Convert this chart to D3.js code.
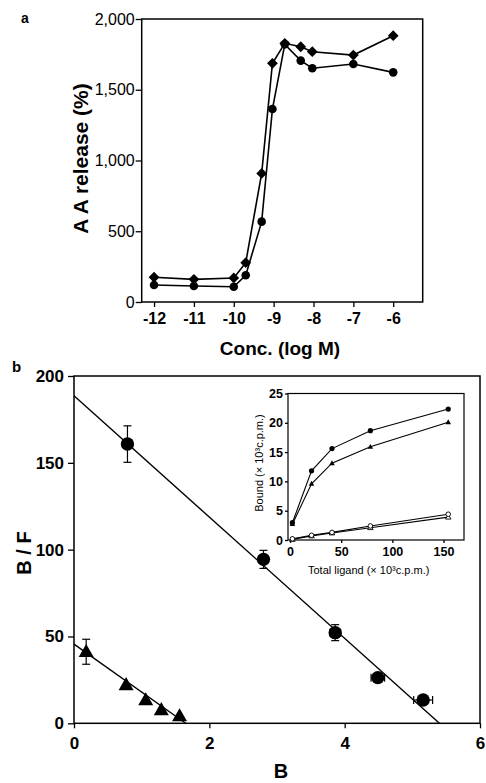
<!DOCTYPE html>
<html>
<head>
<meta charset="utf-8">
<script src="https://cdn.jsdelivr.net/npm/d3@7"></script>
<style>
  body { margin: 0; background: #fff; }
  svg { display: block; font-family: "Liberation Sans", Arial, sans-serif; }
</style>
</head>
<body>
<svg width="486" height="783"></svg>
<script>
// panel a: AA release vs log concentration
var concA = [-12, -11, -10, -9.7, -9.3, -9.03, -8.72, -8.32, -8.03, -7, -6];
var releaseDiamond = [175, 160, 170, 278, 909, 1687, 1828, 1804, 1769, 1745, 1882];
var releaseCircle = [120, 113, 108, 189, 568, 1364, 1821, 1706, 1652, 1682, 1623];
var ticksAx = [-12, -11, -10, -9, -8, -7, -6];
var ticksAy = [0, 500, 1000, 1500, 2000];

// panel b: Scatchard plot
var circB = [0.79, 2.80, 3.86, 4.49, 5.16];
var circBF = [160.8, 94.4, 52.2, 26.3, 13.4];
var circErrY = [10.5, 5.2, 4.6, 2, 1.5];
var circErrX = [0, 0.07, 0.08, 0.1, 0.14];
var triB = [0.18, 0.77, 1.06, 1.29, 1.56];
var triBF = [41.2, 22.1, 13.4, 7.7, 4.2];
var triErrY = [7.2, 0, 0, 0, 0];
var fitCirc = [[0, 188.6], [5.4, 0]];
var fitTri = [[0, 45.6], [1.65, 0]];
var ticksBx = [0, 2, 4, 6];
var ticksBy = [0, 50, 100, 150, 200];

// inset: bound vs total ligand
var ligand = [2.3, 21, 41, 78.5, 154.6];
var boundCircle = [2.95, 11.8, 15.6, 18.65, 22.35];
var boundTri = [2.7, 9.6, 13.1, 15.9, 20.1];
var boundOpenCircle = [0.2, 0.8, 1.3, 2.4, 4.4];
var boundOpenTri = [0.1, 0.7, 1.2, 2.1, 3.9];
var ticksIx = [0, 50, 100, 150];
var ticksIy = [0, 5, 10, 15, 20, 25];

var svg = d3.select("svg");
svg.append("rect").attr("width", 486).attr("height", 783).attr("fill", "#fff");

// plain hyphen for negatives, like the printed figure
var plain = function (d) { return String(d); };

function frame(g, x0, y0, x1, y1, w) {
  g.append("rect")
    .attr("x", x0).attr("y", y0)
    .attr("width", x1 - x0).attr("height", y1 - y0)
    .attr("fill", "none").attr("stroke", "#000").attr("stroke-width", w);
}

function styleAxis(g, size, weight) {
  g.select(".domain").remove();
  g.selectAll("line").attr("stroke", "#000").attr("stroke-width", 1.3);
  g.selectAll("text")
    .attr("fill", "#000")
    .style("font-size", size + "px")
    .style("font-weight", weight)
    .style("font-family", '"Liberation Sans", Arial, sans-serif');
}

var diamondPath = function (r) {
  return "M0," + -r + "L" + r + ",0L0," + r + "L" + -r + ",0Z";
};

// ---------- panel a ----------
var xA = d3.scaleLinear().domain([-12.31, -5.26]).range([141.7, 422.7]);
var yA = d3.scaleLinear().domain([0, 2000]).range([302, 19]);
var gA = svg.append("g");

gA.append("g")
  .attr("transform", "translate(0,302)")
  .call(d3.axisBottom(xA).tickValues(ticksAx).tickSize(5).tickPadding(6).tickFormat(plain))
  .call(function (g) { styleAxis(g, 16, "bold"); });

gA.append("g")
  .attr("transform", "translate(141.7,0)")
  .call(d3.axisLeft(yA).tickValues(ticksAy).tickSize(6).tickPadding(1).tickFormat(d3.format(",")))
  .call(function (g) { styleAxis(g, 16, "normal"); });

frame(gA, 141.7, 19, 422.7, 302, 1.5);

var lineA = d3.line().x(function (d) { return xA(d[0]); }).y(function (d) { return yA(d[1]); });
var serD = concA.map(function (c, i) { return [c, releaseDiamond[i]]; });
var serC = concA.map(function (c, i) { return [c, releaseCircle[i]]; });

gA.append("path").datum(serD).attr("d", lineA)
  .attr("fill", "none").attr("stroke", "#000").attr("stroke-width", 1.6);
gA.append("path").datum(serC).attr("d", lineA)
  .attr("fill", "none").attr("stroke", "#000").attr("stroke-width", 1.6);

gA.selectAll(".dia").data(serD).enter().append("path")
  .attr("transform", function (d) { return "translate(" + xA(d[0]) + "," + yA(d[1]) + ")"; })
  .attr("d", diamondPath(5.4)).attr("fill", "#000");
gA.selectAll(".cir").data(serC).enter().append("circle")
  .attr("cx", function (d) { return xA(d[0]); })
  .attr("cy", function (d) { return yA(d[1]); })
  .attr("r", 4.3).attr("fill", "#000");

gA.append("text").attr("x", 280).attr("y", 355).attr("text-anchor", "middle")
  .style("font-size", "19px").style("font-weight", "bold").text("Conc. (log M)");
gA.append("text").attr("transform", "translate(88,158.5) rotate(-90)").attr("text-anchor", "middle")
  .style("font-size", "21px").style("font-weight", "bold").text("A A release (%)");
gA.append("text").attr("x", 21).attr("y", 23)
  .style("font-size", "14px").style("font-weight", "bold").text("a");

// ---------- panel b ----------
var xB = d3.scaleLinear().domain([0, 6]).range([74, 480]);
var yB = d3.scaleLinear().domain([0, 200]).range([723.3, 376]);
var gB = svg.append("g");

gB.append("g")
  .attr("transform", "translate(0,723.3)")
  .call(d3.axisBottom(xB).tickValues(ticksBx).tickSize(5).tickPadding(9).tickFormat(plain))
  .call(function (g) { styleAxis(g, 17, "bold"); });

gB.append("g")
  .attr("transform", "translate(74,0)")
  .call(d3.axisLeft(yB).tickValues(ticksBy).tickSize(6).tickPadding(4).tickFormat(plain))
  .call(function (g) { styleAxis(g, 17, "bold"); });

frame(gB, 74, 376, 480, 723.3, 1.5);

var lineB = d3.line().x(function (d) { return xB(d[0]); }).y(function (d) { return yB(d[1]); });
gB.append("path").datum(fitCirc).attr("d", lineB).attr("stroke", "#000").attr("stroke-width", 1.4);
gB.append("path").datum(fitTri).attr("d", lineB).attr("stroke", "#000").attr("stroke-width", 1.4);

function errorBars(g, xs, ys, ex, ey) {
  xs.forEach(function (b, i) {
    var cx = xB(b), cy = yB(ys[i]);
    if (ey[i] > 0) {
      var t = yB(ys[i] + ey[i]), bt = yB(ys[i] - ey[i]);
      g.append("line").attr("x1", cx).attr("x2", cx).attr("y1", t).attr("y2", bt);
      g.append("line").attr("x1", cx - 4).attr("x2", cx + 4).attr("y1", t).attr("y2", t);
      g.append("line").attr("x1", cx - 4).attr("x2", cx + 4).attr("y1", bt).attr("y2", bt);
    }
    if (ex[i] > 0) {
      var l = xB(b - ex[i]), r = xB(b + ex[i]);
      g.append("line").attr("x1", l).attr("x2", r).attr("y1", cy).attr("y2", cy);
      g.append("line").attr("x1", l).attr("x2", l).attr("y1", cy - 4).attr("y2", cy + 4);
      g.append("line").attr("x1", r).attr("x2", r).attr("y1", cy - 4).attr("y2", cy + 4);
    }
  });
  g.selectAll("line").attr("stroke", "#000").attr("stroke-width", 1.2);
}

var gErr = gB.append("g");
errorBars(gErr, circB, circBF, circErrX, circErrY);
var gErr2 = gB.append("g");
errorBars(gErr2, triB, triBF, [0, 0, 0, 0, 0], triErrY);

gB.selectAll(".bc").data(circB).enter().append("circle")
  .attr("cx", function (d) { return xB(d); })
  .attr("cy", function (d, i) { return yB(circBF[i]); })
  .attr("r", 6.7).attr("fill", "#000");

var triShape = function (w) {
  var h = w * 0.87;
  return "M0," + (-h * 0.6) + "L" + (w / 2) + "," + (h * 0.4) + "L" + (-w / 2) + "," + (h * 0.4) + "Z";
};
gB.selectAll(".bt").data(triB).enter().append("path")
  .attr("transform", function (d, i) { return "translate(" + xB(d) + "," + yB(triBF[i]) + ")"; })
  .attr("d", triShape(15)).attr("fill", "#000");

gB.append("text").attr("x", 281).attr("y", 778).attr("text-anchor", "middle")
  .style("font-size", "20px").style("font-weight", "bold").text("B");
gB.append("text").attr("transform", "translate(31,553) rotate(-90)").attr("text-anchor", "middle")
  .style("font-size", "20px").style("font-weight", "bold").text("B / F");
gB.append("text").attr("x", 12).attr("y", 372)
  .style("font-size", "15px").style("font-weight", "bold").text("b");

// ---------- inset ----------
var xI = d3.scaleLinear().domain([-2, 170]).range([288, 464]);
var yI = d3.scaleLinear().domain([0, 25]).range([540, 393.5]);
var gI = svg.append("g");

gI.append("rect").attr("x", 288).attr("y", 393.5).attr("width", 176).attr("height", 146.5).attr("fill", "#fff");

gI.append("g")
  .attr("transform", "translate(0,540)")
  .call(d3.axisBottom(xI).tickValues(ticksIx).tickSize(3).tickPadding(4).tickFormat(plain))
  .call(function (g) { styleAxis(g, 12.5, "bold"); });
gI.append("g")
  .attr("transform", "translate(288,0)")
  .call(d3.axisLeft(yI).tickValues(ticksIy).tickSize(3).tickPadding(2).tickFormat(plain))
  .call(function (g) { styleAxis(g, 12.5, "bold"); });

frame(gI, 288, 393.5, 464, 540, 1.2);

var lineI = d3.line().x(function (d) { return xI(d[0]); }).y(function (d) { return yI(d[1]); });
function pairs(ys) { return ligand.map(function (l, i) { return [l, ys[i]]; }); }

[boundCircle, boundTri, boundOpenCircle, boundOpenTri].forEach(function (ys) {
  gI.append("path").datum(pairs(ys)).attr("d", lineI)
    .attr("fill", "none").attr("stroke", "#000").attr("stroke-width", 1.1);
});

gI.selectAll(".ic").data(pairs(boundCircle)).enter().append("circle")
  .attr("cx", function (d) { return xI(d[0]); }).attr("cy", function (d) { return yI(d[1]); })
  .attr("r", 2.6).attr("fill", "#000");
gI.selectAll(".it").data(pairs(boundTri)).enter().append("path")
  .attr("transform", function (d) { return "translate(" + xI(d[0]) + "," + yI(d[1]) + ")"; })
  .attr("d", triShape(5.5)).attr("fill", "#000");
gI.selectAll(".iot").data(pairs(boundOpenTri)).enter().append("path")
  .attr("transform", function (d) { return "translate(" + xI(d[0]) + "," + yI(d[1]) + ")"; })
  .attr("d", triShape(5.5)).attr("fill", "#fff").attr("stroke", "#000").attr("stroke-width", 0.9);
gI.selectAll(".ioc").data(pairs(boundOpenCircle)).enter().append("circle")
  .attr("cx", function (d) { return xI(d[0]); }).attr("cy", function (d) { return yI(d[1]); })
  .attr("r", 2.3).attr("fill", "#fff").attr("stroke", "#000").attr("stroke-width", 0.9);

gI.append("text").attr("x", 368.7).attr("y", 574).attr("text-anchor", "middle")
  .style("font-size", "11px").text("Total ligand (\u00d7 10\u00b3c.p.m.)");
gI.append("text").attr("transform", "translate(263,463) rotate(-90)").attr("text-anchor", "middle")
  .style("font-size", "11px").text("Bound (\u00d7 10\u00b3c.p.m.)");
</script>
</body>
</html>
